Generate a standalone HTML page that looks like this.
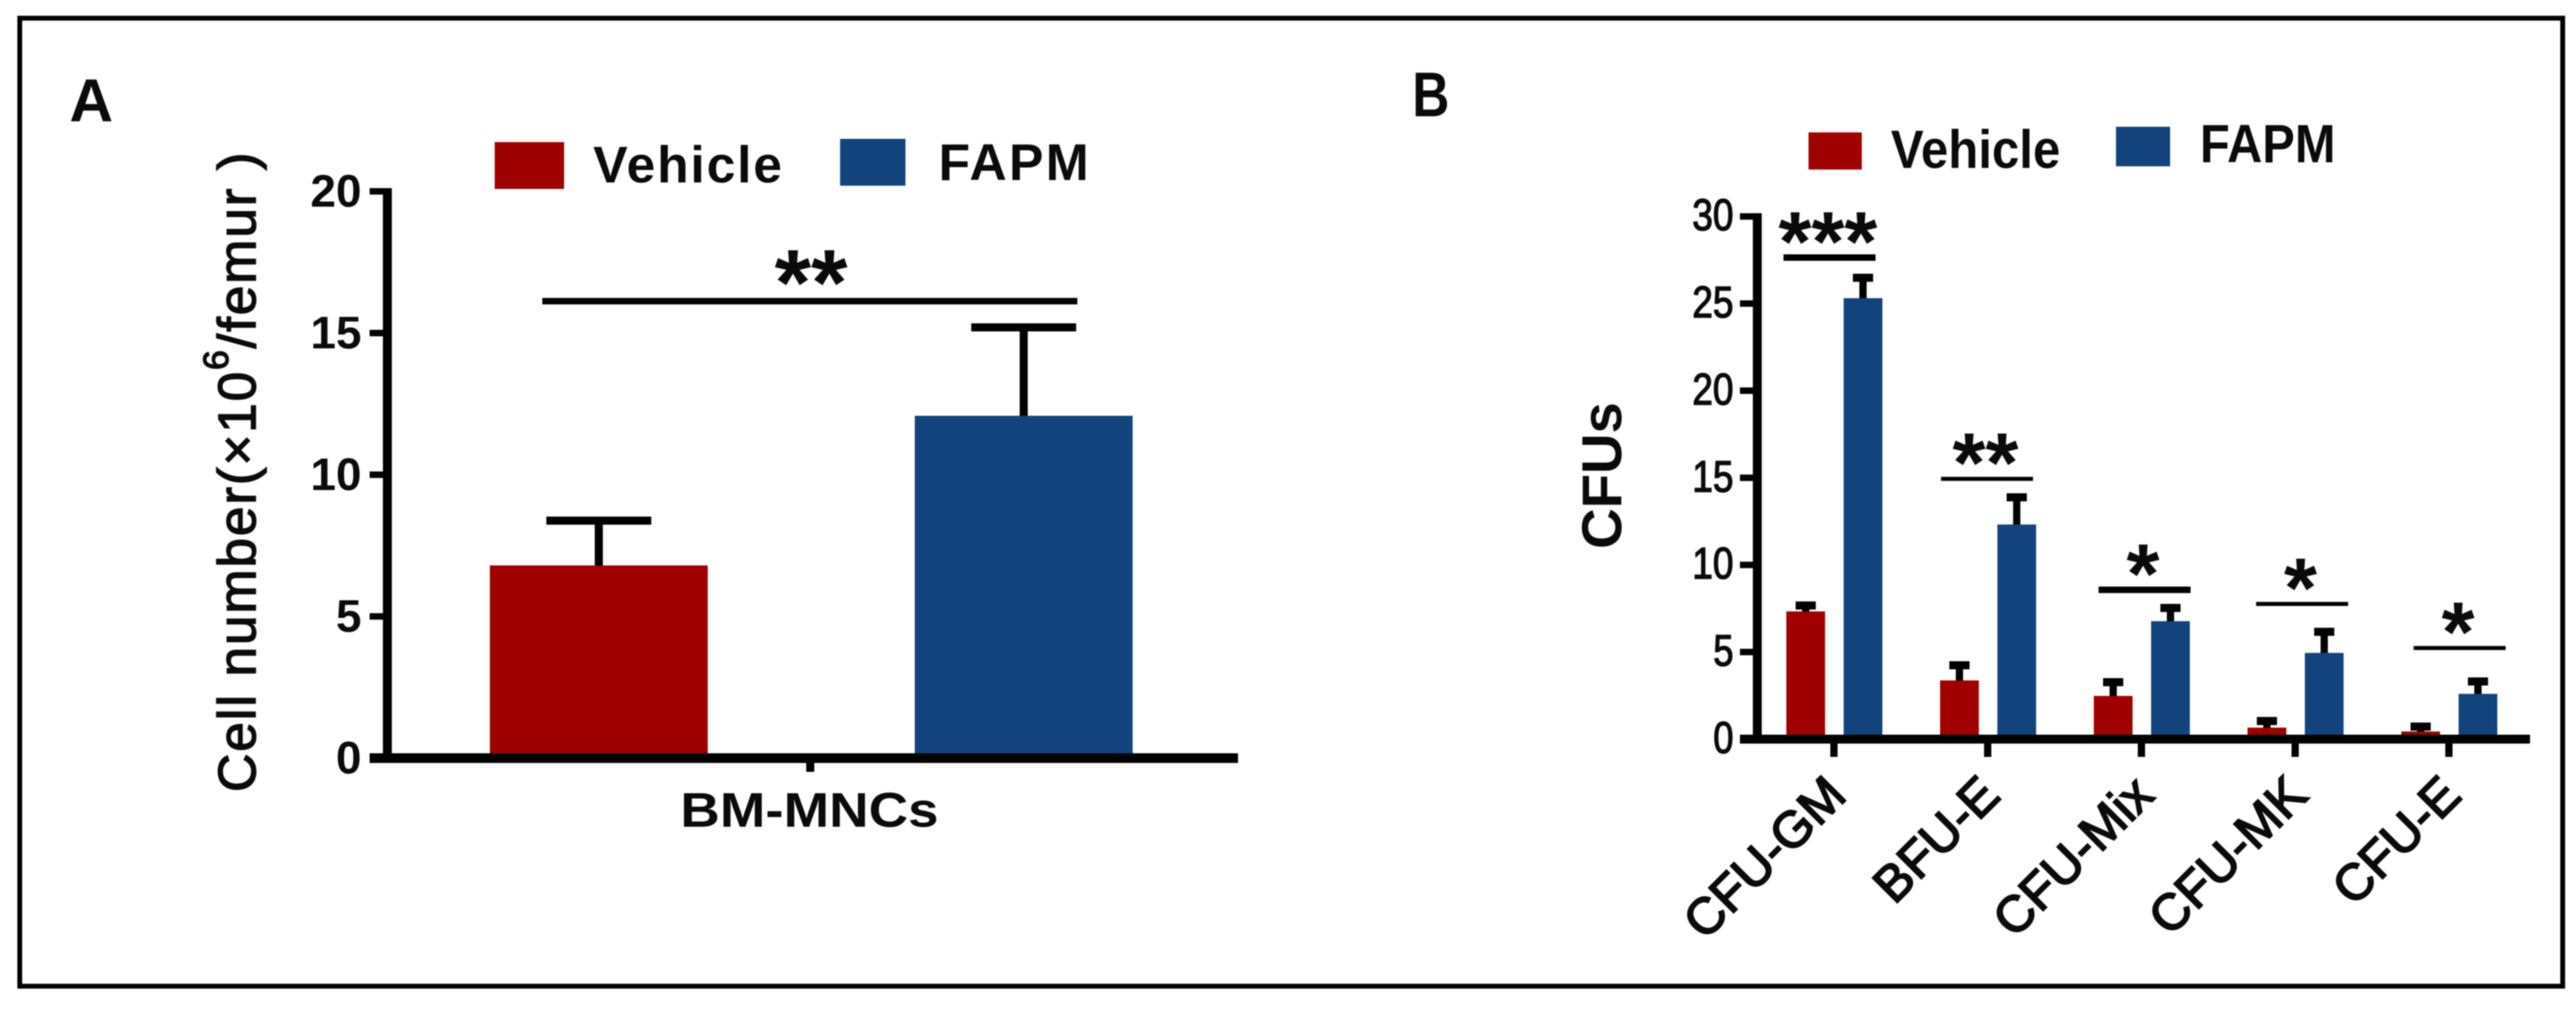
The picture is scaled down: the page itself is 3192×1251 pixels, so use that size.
<!DOCTYPE html>
<html>
<head>
<meta charset="utf-8">
<style>
html,body{margin:0;padding:0;background:#fff}
svg{display:block;font-family:"Liberation Sans",sans-serif;font-weight:bold;fill:#0a0a0a;filter:blur(0.9px)}
.med{font-weight:normal;stroke:#0a0a0a;stroke-width:1.6px}
.lab{font-weight:normal;stroke:#0a0a0a;stroke-width:2.2px}
</style>
</head>
<body>
<svg id="fig" xmlns="http://www.w3.org/2000/svg" width="3192" height="1251" viewBox="0 0 3192 1251">
  <rect x="24.5" y="22.5" width="3151" height="1199" fill="#fff" stroke="#000" stroke-width="6"/>
  <text x="86" y="150" font-size="75">A</text>
  <text x="1750" y="144" font-size="78" textLength="46" lengthAdjust="spacingAndGlyphs">B</text>

  <g>
    <rect x="613" y="176" width="86" height="58" fill="#a00000"/>
    <text x="735" y="226" font-size="64" textLength="234" lengthAdjust="spacing">Vehicle</text>
    <rect x="1041" y="172" width="81" height="58" fill="#12437c"/>
    <text x="1163" y="223" font-size="64" textLength="186" lengthAdjust="spacing">FAPM</text>
  </g>
  <text class="med" transform="translate(316.5,981) rotate(-90)" font-size="66" letter-spacing="2.2">Cell number(×10<tspan dy="-34" font-size="44">6</tspan><tspan dy="34">/femur )</tspan></text>
  <text x="843" y="1024" font-size="60" textLength="320" lengthAdjust="spacingAndGlyphs">BM-MNCs</text>

  <g>
    <rect x="2241" y="164" width="66" height="46" fill="#a00000"/>
    <text x="2343" y="208" font-size="67" textLength="210" lengthAdjust="spacingAndGlyphs">Vehicle</text>
    <rect x="2622" y="157" width="67" height="49" fill="#12437c"/>
    <text x="2726" y="201" font-size="67" textLength="168" lengthAdjust="spacingAndGlyphs">FAPM</text>
  </g>
  <text transform="translate(2009,680) rotate(-90)" font-size="70" textLength="182" lengthAdjust="spacing">CFUs</text>

  <g id="chartA"></g>
  <g id="chartB"></g>
</svg>
<script>
// Panel A data
const catsA = ['Vehicle', 'FAPM'];
const meansA = [6.8, 12.08];
const upperA = [8.38, 15.2];
const ticksA = [0, 5, 10, 15, 20];
// Panel B data
const catsB = ['CFU-GM', 'BFU-E', 'CFU-Mix', 'CFU-MK', 'CFU-E'];
const vehicleB = [7.33, 3.37, 2.48, 0.66, 0.44];
const vehicleUpperB = [7.67, 4.24, 3.27, 1.04, 0.72];
const fapmB = [25.31, 12.32, 6.77, 4.95, 2.6];
const fapmUpperB = [26.48, 13.88, 7.53, 6.16, 3.31];
const sigLevelB = [27.64, 14.94, 8.57, 7.76, 5.23];
const sigStarsB = ['***', '**', '*', '*', '*'];
const ticksB = [0, 5, 10, 15, 20, 25, 30];

const NS = 'http://www.w3.org/2000/svg';
const RED = '#a00000', BLUE = '#12437c';
function yA(v) { return 939 - v * 35.1; }
function xA(i) { return 742 + i * 526.5; }
function yB(v) { return 915.5 - v * 21.58; }
function xB(i) { return 2272.5 + i * 190.5; }
function xSig(i) { return 2267 + i * 195.2; }
function mk(parent, tag, attrs) {
  const el = document.createElementNS(NS, tag);
  for (const k in attrs) el.setAttribute(k, attrs[k]);
  parent.appendChild(el);
  return el;
}
function rect(parent, x, y, w, h, fill) {
  return mk(parent, 'rect', { x: x, y: y, width: w, height: h, fill: fill });
}

const gA = document.getElementById('chartA');
const gB = document.getElementById('chartB');

// Panel A bars
catsA.forEach(function (c, i) {
  const cx = xA(i);
  const stem = rect(gA, cx - 5, yA(upperA[i]), 10, yA(meansA[i]) - yA(upperA[i]) + 4, '#000');
  
  
  const cap = rect(gA, cx - 65, yA(upperA[i]) - 5, 130, 10, '#000');
  
  
  const bar = rect(gA, cx - 135, yA(meansA[i]), 270, yA(0) - yA(meansA[i]), i === 0 ? RED : BLUE);
  
  
});

// Panel A axes
const axisYA = rect(gA, 474.5, yA(20) - 4, 11, yA(0) - yA(20) + 6, '#000');


const axisXA = rect(gA, 458, yA(0) - 6, 1076, 12, '#000');


const tickXA = rect(gA, 999, yA(0), 10, 17, '#000');


ticksA.forEach(function (t) {
  const tk = rect(gA, 458, yA(t) - 4, 20, 8, '#000');
  
  
  const lb = mk(gA, 'text', { x: 448, y: yA(t) + 19, 'font-size': 57, 'text-anchor': 'end' });
  lb.textContent = t;
  
  
});

// Panel A significance
const sigLineA = rect(gA, 672, 369, 663, 8, '#000');


const sigTextA = mk(gA, 'text', { x: 1005, y: 390, 'font-size': 116, 'text-anchor': 'middle' });
sigTextA.textContent = '**';



// Panel B bars
catsB.forEach(function (c, i) {
  const cx = xB(i);
  [[vehicleB, vehicleUpperB, -35, RED, 'vehicle'], [fapmB, fapmUpperB, 36, BLUE, 'fapm']].forEach(function (s) {
    const m = s[0][i], u = s[1][i], x = cx + s[2];
    const stem = rect(gB, x - 4.5, yB(u), 9, yB(m) - yB(u) + 3, '#000');
    
    
    const cap = rect(gB, x - 12.5, yB(u) - 5, 25, 10, '#000');
    
    
    const bar = rect(gB, x - 24, yB(m), 48, yB(0) - yB(m), s[3]);
    
    
  });

  const tick = rect(gB, cx - 4.5, yB(0), 9, 22, '#000');
  
  

  const lab = mk(gB, 'text', { class: 'lab', transform: 'translate(' + (cx + 18) + ',988) rotate(-45)', 'font-size': 63, 'text-anchor': 'end' });
  lab.textContent = c;
  
  

  const thick = (i === 0 || i === 2) ? 8 : 5;
  const sig = rect(gB, xSig(i) - 57, yB(sigLevelB[i]) - thick / 2, 114, thick, '#000');
  
  
  const star = mk(gB, 'text', { x: xSig(i) - 2, y: yB(sigLevelB[i]) + 16, 'font-size': 105, 'text-anchor': 'middle' });
  star.textContent = sigStarsB[i];
  
  
});

// Panel B axes
const axisYB = rect(gB, 2172, yB(30) - 4, 11, yB(0) - yB(30) + 6, '#000');


const axisXB = rect(gB, 2156, yB(0) - 5.5, 979, 11, '#000');


ticksB.forEach(function (t) {
  const tk = rect(gB, 2156, yB(t) - 4, 18, 8, '#000');
  
  
  const lb = mk(gB, 'text', { class: 'med', x: 2148, y: yB(t) + 17, 'font-size': 55, 'text-anchor': 'end', textLength: t < 10 ? 25 : 51, lengthAdjust: 'spacingAndGlyphs' });
  lb.textContent = t;
  
  
});
</script>
</body>
</html>
